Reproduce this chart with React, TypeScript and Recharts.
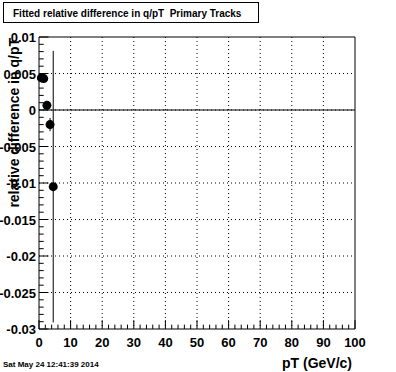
import {
  CartesianGrid,
  ErrorBar,
  ReferenceArea,
  ReferenceLine,
  Scatter,
  ScatterChart,
  XAxis,
  YAxis,
} from 'recharts'

// fitted points: pT (GeV/c), relative difference, error
const ptValues = [0.75, 1.5, 2.5, 3.5, 4.5]
const relDiff = [0.0044, 0.0043, 0.00064, -0.002, -0.0105]
const relDiffErr = [0.0003, 0.0003, 0.0003, 0.0009, 0.0186]

const xMajorTicks = [0, 10, 20, 30, 40, 50, 60, 70, 80, 90, 100]
const yMajorTicks = [0.01, 0.005, 0, -0.005, -0.01, -0.015, -0.02, -0.025, -0.03]
const yTickLabels = ['0.01', '0.005', '0', '-0.005', '-0.01', '-0.015', '-0.02', '-0.025', '-0.03']

const titleText = 'Fitted relative difference in q/pT  Primary Tracks'
const xTitle = 'pT (GeV/c)'
const yTitle = 'relative difference in q/pT'
const dateText = 'Sat May 24 12:41:39 2014'

// minor ticks: x every 2, y every 0.001
const xAllTicks = Array.from({ length: 51 }, (_, i) => i * 2)
const yAllTicks = Array.from({ length: 41 }, (_, i) => (i - 30) / 1000)

const FONT = '"Liberation Sans", Arial, Helvetica, sans-serif'

const points = ptValues.map((pt, i) => ({ pt, diff: relDiff[i], err: relDiffErr[i] }))

function majorIndex(list: number[], v: number) {
  return list.findIndex((t) => Math.abs(t - v) < 1e-9)
}

function YTick(props: any) {
  const { x, y, payload } = props
  const idx = majorIndex(yMajorTicks, payload.value)
  const major = idx >= 0
  return (
    <g>
      <line x1={x} x2={x + (major ? 9.5 : 4.7)} y1={y} y2={y} stroke="#000" strokeWidth={1} />
      {major && (
        <text x={x - 3} y={y + 5} textAnchor="end" fontFamily={FONT} fontWeight="bold" fontSize={13} fill="#000">
          {yTickLabels[idx]}
        </text>
      )}
    </g>
  )
}

function XTick(props: any) {
  const { x, y, payload } = props
  const idx = majorIndex(xMajorTicks, payload.value)
  const major = idx >= 0
  return (
    <g>
      <line x1={x} x2={x} y1={y} y2={y - (major ? 8.8 : 4.4)} stroke="#000" strokeWidth={1} />
      {major && (
        <text x={x} y={y + 18} textAnchor="middle" fontFamily={FONT} fontWeight="bold" fontSize={13} fill="#000">
          {String(xMajorTicks[idx])}
        </text>
      )}
    </g>
  )
}

function Dot(props: any) {
  return <circle cx={props.cx} cy={props.cy} r={4.5} fill="#000" />
}

export default function App() {
  return (
    <div style={{ position: 'absolute', left: 0, top: 0, width: 396, height: 372, background: '#fff' }}>
      <ScatterChart width={396} height={372} margin={{ top: 37, right: 41, bottom: 0, left: 0 }}>
        <CartesianGrid
          stroke="#000"
          strokeDasharray="1 3"
          horizontalValues={yMajorTicks.slice(1, -1)}
          verticalValues={xMajorTicks.slice(1, -1)}
        />
        <XAxis
          type="number"
          dataKey="pt"
          domain={[0, 100]}
          ticks={xAllTicks}
          interval={0}
          tick={<XTick />}
          tickSize={0}
          tickMargin={0}
          tickLine={false}
          axisLine={false}
          height={43}
        />
        <YAxis
          type="number"
          dataKey="diff"
          domain={[-0.03, 0.01]}
          ticks={yAllTicks}
          interval={0}
          tick={<YTick />}
          tickSize={0}
          tickMargin={0}
          tickLine={false}
          axisLine={false}
          width={39}
        />
        <ReferenceLine y={0} stroke="#000" strokeWidth={1} />
        <ReferenceArea x1={0} x2={100} y1={-0.03} y2={0.01} fill="none" stroke="#000" strokeWidth={1} />
        <Scatter data={points} shape={<Dot />} isAnimationActive={false}>
          <ErrorBar dataKey="err" direction="y" width={0} stroke="#000" strokeWidth={1} />
        </Scatter>
      </ScatterChart>
      <svg
        width={396}
        height={372}
        style={{ position: 'absolute', left: 0, top: 0, pointerEvents: 'none' }}
      >
        <rect x={3.5} y={2.5} width={255} height={20} fill="#fff" stroke="#000" strokeWidth={1} />
        <text
          x={13}
          y={17}
          fontFamily={FONT}
          fontWeight="bold"
          fontSize={10}
          fill="#000"
          style={{ whiteSpace: 'pre' }}
        >
          {titleText}
        </text>
        <text
          x={0}
          y={0}
          transform="translate(19,38) rotate(-90)"
          textAnchor="end"
          fontFamily={FONT}
          fontWeight="bold"
          fontSize={14}
          fill="#000"
        >
          {yTitle}
        </text>
        <text x={352} y={368} textAnchor="end" fontFamily={FONT} fontWeight="bold" fontSize={14} fill="#000">
          {xTitle}
        </text>
        <text x={3} y={367} fontFamily={FONT} fontWeight="bold" fontSize={8} fill="#000">
          {dateText}
        </text>
      </svg>
    </div>
  )
}
